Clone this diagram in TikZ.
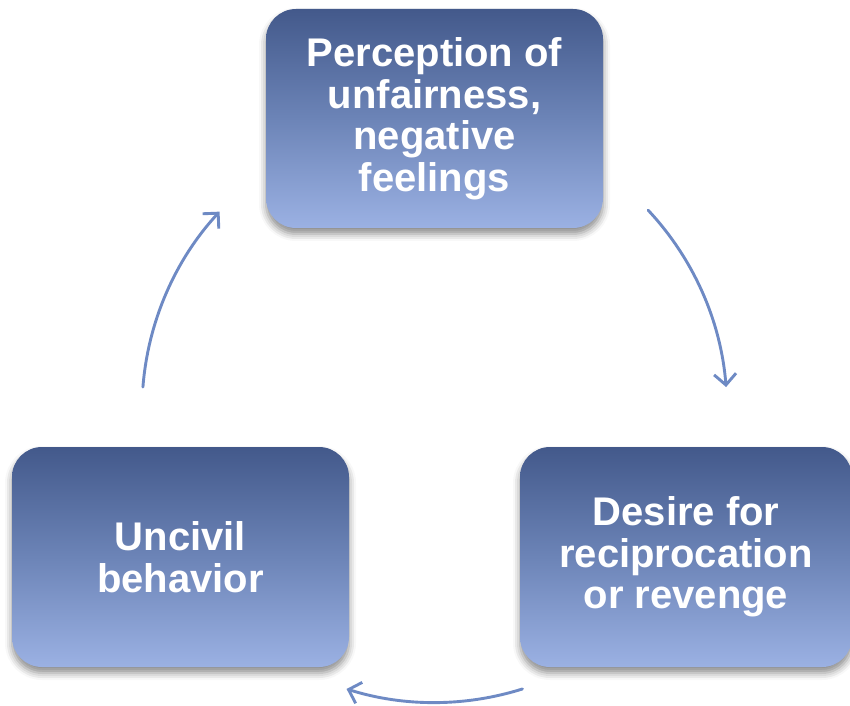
\documentclass[tikz,border=0pt]{standalone}
\usepackage{fontspec}
\setmainfont{Liberation Sans}
\usetikzlibrary{arrows.meta,shadows.blur}
\definecolor{boxtop}{RGB}{67,89,139}
\definecolor{boxmid}{RGB}{108,132,183}
\definecolor{boxbot}{RGB}{155,177,227}
\definecolor{arrowc}{RGB}{110,138,196}
\tikzset{
  cyclebox/.style={rectangle, rounded corners=30pt, draw=none,
    top color=boxtop, bottom color=boxbot, middle color=boxmid,
    text=white, align=center, inner sep=0pt,
    font=\fontsize{40}{41.5}\selectfont\bfseries,
    blur shadow={shadow xshift=0pt, shadow yshift=-6pt, shadow blur radius=7pt, shadow opacity=45}},
  cyclearrow/.style={draw=arrowc, line width=2.9pt, line cap=round,
    -{Straight Barb[length=11pt, width=22pt, line width=2.9pt]}}
}
\begin{document}
\begin{tikzpicture}[x=1pt,y=1pt]
\useasboundingbox (0,0) rectangle (850,705);
\node[cyclebox, minimum width=337pt, minimum height=219pt] (top) at (434.5,586.5)
  {Perception of\\unfairness,\\negative\\feelings};
\node[cyclebox, minimum width=332pt, minimum height=220pt] (right) at (686,148)
  {Desire for\\reciprocation\\or revenge};
\node[cyclebox, minimum width=337pt, minimum height=220pt] (left) at (180.5,148)
  {Uncivil\\behavior};
\coordinate (ctr) at (434.5,295);
\path (ctr) ++(43.1:292.5) coordinate (s1);
\path (ctr) ++(-72.5:292.5) coordinate (s2);
\path (ctr) ++(175.5:292.5) coordinate (s3);
\draw[cyclearrow] (s1) arc[start angle=43.1, end angle=4.5, radius=292.5];
\draw[cyclearrow] (s2) arc[start angle=-72.5, end angle=-107.5, radius=292.5];
\draw[cyclearrow] (s3) arc[start angle=175.5, end angle=137.3, radius=292.5];
\end{tikzpicture}
\end{document}
